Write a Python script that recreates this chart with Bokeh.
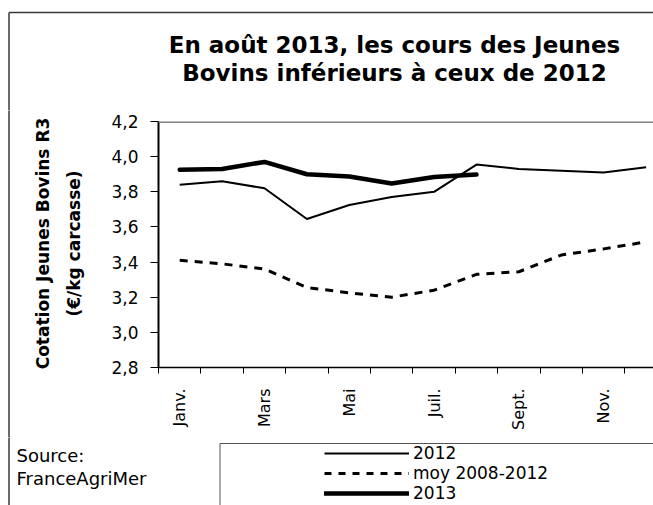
import math
from bokeh.plotting import figure
from bokeh.layouts import column, row
from bokeh.models import (Range1d, FixedTicker, CustomJSTickFormatter, Label, Span,
                          Legend, LegendItem)
from bokeh.embed import file_html
from bokeh.resources import INLINE

# ---------------- data ----------------
months = ["Janv.", "Févr.", "Mars", "Avr.", "Mai", "Juin", "Juil.", "Août",
          "Sept.", "Oct.", "Nov.", "Déc."]
tick_months = ["Janv.", "Mars", "Mai", "Juil.", "Sept.", "Nov."]
y_ticks = [2.8, 3.0, 3.2, 3.4, 3.6, 3.8, 4.0, 4.2]

v2012 = [3.84, 3.86, 3.82, 3.645, 3.725, 3.77, 3.80, 3.955, 3.93, 3.92, 3.91, 3.94]
moy_2008_2012 = [3.41, 3.39, 3.36, 3.255, 3.225, 3.20, 3.24, 3.33, 3.345, 3.44, 3.475, 3.515]
v2013 = [3.925, 3.93, 3.97, 3.90, 3.887, 3.847, 3.884, 3.898]

series_names = ["2012", "moy 2008-2012", "2013"]
title_lines = ["En août 2013, les cours des Jeunes", "Bovins inférieurs à ceux de 2012"]
y_title_lines = ["Cotation Jeunes Bovins R3", "(€/kg carcasse)"]
source_lines = ["Source:", "FranceAgriMer"]

FONT = "DejaVu Sans"
BORDER = "#3a3a3a"

# page geometry (pixels from the top-left of the page)
W, H = 653, 505
TOP_H = 110          # title strip
MID_H = 327          # plot row
LEFT_W = 100         # y-title strip
BOT_H = H - TOP_H - MID_H


def no_align(f):
    try:
        f.frame_align = False
    except Exception:
        pass
    return f


def decor(width, height, x0, x1, ytop, ybot):
    """A frame-only figure whose data coordinates equal page pixels."""
    f = figure(width=width, height=height, output_backend="svg", toolbar_location=None,
               x_range=Range1d(x0, x1), y_range=Range1d(ybot, ytop),
               x_axis_location=None, y_axis_location=None,
               min_border=0, min_border_left=0, min_border_right=0,
               min_border_top=0, min_border_bottom=0)
    f.grid.visible = False
    f.outline_line_color = None
    f.background_fill_color = "white"
    f.border_fill_color = "white"
    return no_align(f)


# ---------------- title strip ----------------
ptop = decor(W, TOP_H, 0, W, 0, TOP_H)
ptop.segment(x0=[8.5, 8.5], y0=[12, 12], x1=[W + 5, 8.5], y1=[12, TOP_H + 5],
             line_color=BORDER, line_width=1.5)
for i, t in enumerate(title_lines):
    ptop.add_layout(Label(x=394, y=44 + 28 * i, text=t, text_align="center",
                          text_baseline="middle", text_font=FONT,
                          text_font_style="bold", text_font_size="23px",
                          text_color="black"))

# ---------------- y title strip ----------------
pleft = decor(LEFT_W, MID_H, 0, LEFT_W, TOP_H, TOP_H + MID_H)
pleft.segment(x0=[8.5], y0=[TOP_H - 5], x1=[8.5], y1=[TOP_H + MID_H + 5],
              line_color=BORDER, line_width=1.5)
for i, t in enumerate(y_title_lines):
    pleft.add_layout(Label(x=42 + 31.5 * i, y=243, text=t, angle=math.pi / 2,
                           text_align="center", text_baseline="middle",
                           text_font=FONT, text_font_style="bold",
                           text_font_size="17px", text_color="black"))

# ---------------- main plot ----------------
xpos = [i + 0.5 for i in range(len(months))]
p = figure(width=W - LEFT_W, height=MID_H, output_backend="svg", toolbar_location=None,
           x_range=Range1d(0, 11.675), y_range=Range1d(2.8, 4.2),
           min_border_left=158 - LEFT_W, min_border_top=121 - TOP_H,
           min_border_bottom=TOP_H + MID_H - 367, min_border_right=0)
no_align(p)
p.outline_line_color = None
p.grid.visible = False
p.background_fill_color = "white"
p.border_fill_color = "white"

r2012 = p.line(xpos, v2012, line_color="black", line_width=2)
rmoy = p.line(xpos, moy_2008_2012, line_color="black", line_width=3, line_dash="8 7")
r2013 = p.line(xpos[:len(v2013)], v2013, line_color="black", line_width=4.5,
               line_join="round", line_cap="round")

xa = p.xaxis[0]
xa.ticker = FixedTicker(ticks=[xpos[months.index(m)] for m in tick_months],
                        minor_ticks=list(range(len(months) + 1)))
xa.major_label_overrides = {xpos[months.index(m)]: m for m in tick_months}
xa.major_tick_out = 0
xa.major_tick_in = 0
xa.minor_tick_out = 6
xa.minor_tick_in = 0
xa.minor_tick_line_color = "black"
xa.axis_line_color = "black"
xa.axis_line_width = 1.5
xa.major_label_orientation = math.pi / 2
xa.major_label_standoff = 15
xa.major_label_text_font = FONT
xa.major_label_text_font_size = "16px"
xa.major_label_text_color = "black"

ya = p.yaxis[0]
ya.ticker = FixedTicker(ticks=y_ticks)
ya.formatter = CustomJSTickFormatter(code="return tick.toFixed(1).replace('.', ',');")
ya.major_tick_out = 8
ya.major_tick_in = 0
ya.minor_tick_out = 0
ya.minor_tick_in = 0
ya.major_tick_line_color = "black"
ya.axis_line_color = "black"
ya.axis_line_width = 2
ya.major_label_standoff = 12
ya.major_label_text_font = FONT
ya.major_label_text_font_size = "17px"
ya.major_label_text_color = "black"

p.add_layout(Span(location=4.2, dimension="width", line_color="#808080", line_width=3))

# ---------------- source + legend strip ----------------
pbot = decor(W, BOT_H, 0, W, TOP_H + MID_H, H)
pbot.segment(x0=[8.5], y0=[TOP_H + MID_H - 5], x1=[8.5], y1=[H + 5],
             line_color=BORDER, line_width=1.5)
# legend frame
pbot.segment(x0=[219.5, 219.5], y0=[443, 443], x1=[W + 5, 219.5], y1=[443, H + 5],
             line_color="#555555", line_width=1)
for i, t in enumerate(source_lines):
    pbot.add_layout(Label(x=16, y=455 + 23 * i, text=t, text_align="left",
                          text_baseline="middle", text_font=FONT,
                          text_font_size="18px", text_color="black"))

# legend sample renderers (kept outside the visible strip)
off = [-50, -40]
off_y = [H + 100, H + 100]
l2012 = pbot.line(off, off_y, line_color="black", line_width=2)
lmoy = pbot.line(off, off_y, line_color="black", line_width=3, line_dash="7 7")
l2013 = pbot.line(off, off_y, line_color="black", line_width=4.5, line_cap="round")
legend = Legend(items=[LegendItem(label=n, renderers=[r])
                       for n, r in zip(series_names, [l2012, lmoy, l2013])],
                location=(324, 2), orientation="vertical",
                glyph_width=85, glyph_height=18, label_height=18, label_standoff=4,
                spacing=0, padding=0, margin=0, border_line_color=None,
                background_fill_alpha=0, label_text_font=FONT,
                label_text_font_size="17px", label_text_color="black")
pbot.add_layout(legend, "center")

layout = column(ptop, row(pleft, p), pbot)
open("out.html", "w").write(file_html(layout, INLINE))
